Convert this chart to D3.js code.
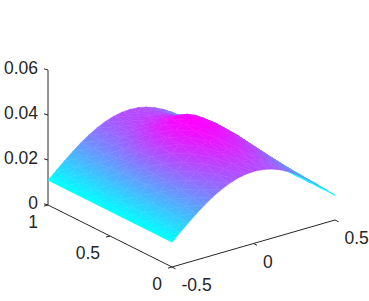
<!DOCTYPE html>
<html>
<head>
<meta charset="utf-8">
<script src="https://cdn.jsdelivr.net/npm/d3@7"></script>
<style>
	html, body { margin: 0; padding: 0; background: #fff; }
	svg { display: block; }
	text { font-family: "Liberation Sans", Arial, sans-serif; font-size: 17.5px; fill: #262626; }
</style>
</head>
<body>
<script>
const xTicks = [-0.5, 0, 0.5];
const yTicks = [0, 0.5, 1];
const zTicks = [0, 0.02, 0.04, 0.06];

const xValues = [-0.5, -0.45, -0.4, -0.35, -0.3, -0.25, -0.2, -0.15, -0.1, -0.05, 0, 0.05, 0.1, 0.15, 0.2, 0.25, 0.3, 0.35, 0.4, 0.45, 0.5];
const yValues = [0, 0.1, 0.2, 0.3, 0.4, 0.5, 0.6, 0.7, 0.8, 0.9, 1];

// one row per y value
const zRows = [
	[.011, .01428, .01749, .02053, .02334, .02585, .02799, .02971, .03097, .03174, .032, .03174, .03097, .02971, .02799, .02585, .02334, .02053, .01749, .01428, .011],
	[.011, .01438, .01769, .02089, .0239, .02665, .02907, .03107, .03255, .03348, .0338, .03348, .03255, .03107, .02907, .02665, .0239, .02089, .01769, .01438, .011],
	[.011, .01453, .01799, .02143, .02474, .02785, .03069, .03311, .03492, .03609, .0365, .03609, .03492, .03311, .03069, .02785, .02474, .02143, .01799, .01453, .011],
	[.011, .01466, .01824, .02188, .02544, .02885, .03204, .03481, .0369, .03827, .03875, .03827, .0369, .03481, .03204, .02885, .02544, .02188, .01824, .01466, .011],
	[.011, .01476, .01844, .02224, .026, .02965, .03312, .03617, .03848, .04001, .04055, .04001, .03848, .03617, .03312, .02965, .026, .02224, .01844, .01476, .011],
	[.011, .01478, .01849, .02233, .02614, .02985, .03339, .03651, .03887, .04044, .041, .04044, .03887, .03651, .03339, .02985, .02614, .02233, .01849, .01478, .011],
	[.011, .01475, .01842, .0222, .02594, .02957, .03301, .03603, .03832, .03983, .04037, .03983, .03832, .03603, .03301, .02957, .02594, .0222, .01842, .01475, .011],
	[.011, .01456, .01804, .02152, .02488, .02805, .03096, .03345, .03532, .03653, .03695, .03653, .03532, .03345, .03096, .02805, .02488, .02152, .01804, .01456, .011],
	[.011, .01441, .01774, .02098, .02404, .02685, .02934, .03141, .03295, .03392, .03425, .03392, .03295, .03141, .02934, .02685, .02404, .02098, .01774, .01441, .011],
	[.011, .01432, .01757, .02067, .02356, .02617, .02842, .03025, .0316, .03244, .03272, .03244, .0316, .03025, .02842, .02617, .02356, .02067, .01757, .01432, .011],
	[.011, .01428, .01749, .02053, .02334, .02585, .02799, .02971, .03097, .03174, .032, .03174, .03097, .02971, .02799, .02585, .02334, .02053, .01749, .01428, .011]
];

const width = 369;
const height = 301;

const svg = d3.select('body').append('svg').attr('width', width).attr('height', height);
const defs = svg.append('defs');

// oblique projection, each data axis gets a screen x and a screen y scale
const xToH = d3.scaleLinear().domain([-0.5, 0.5]).range([172, 335]);
const xToV = d3.scaleLinear().domain([-0.5, 0.5]).range([267, 220]);
const yToH = d3.scaleLinear().domain([0, 1]).range([0, -124]);
const yToV = d3.scaleLinear().domain([0, 1]).range([0, -62]);
const zToV = d3.scaleLinear().domain([0, 0.06]).range([0, -135]);

const project = (x, y, z) => [xToH(x) + yToH(y), xToV(x) + yToV(y) + zToV(z)];

const colorPos = d3.scaleLinear().domain([d3.min(zRows.flat()), d3.max(zRows.flat())]).range([0, 1]);
const cool = d3.scaleLinear().domain([0, 1]).range(['#00ffff', '#ff00ff']);

let gradId = 0;

// a triangle with linear colour is exactly one svg linear gradient
function triangleFill(pts) {
	const [p0, p1, p2] = pts;
	const ux = p1.s[0] - p0.s[0], uy = p1.s[1] - p0.s[1];
	const vx = p2.s[0] - p0.s[0], vy = p2.s[1] - p0.s[1];
	const det = ux * vy - uy * vx;
	const dt1 = p1.t - p0.t, dt2 = p2.t - p0.t;
	if (Math.abs(det) < 1e-6) return cool(p0.t);
	const a = (dt1 * vy - dt2 * uy) / det;
	const b = (dt2 * ux - dt1 * vx) / det;
	const len2 = a * a + b * b;
	if (len2 < 1e-9) return cool(p0.t);
	const dx = a / len2, dy = b / len2;
	const id = `surfGrad-${gradId++}`;
	const grad = defs.append('linearGradient')
		.attr('id', id)
		.attr('gradientUnits', 'userSpaceOnUse')
		.attr('x1', p0.s[0] - p0.t * dx)
		.attr('y1', p0.s[1] - p0.t * dy)
		.attr('x2', p0.s[0] + (1 - p0.t) * dx)
		.attr('y2', p0.s[1] + (1 - p0.t) * dy);
	grad.append('stop').attr('offset', 0).attr('stop-color', cool(0));
	grad.append('stop').attr('offset', 1).attr('stop-color', cool(1));
	return `url(#${id})`;
}

// axes first, the surface sits on top of them
const axisColor = '#262626';
const axes = svg.append('g').attr('class', 'axes')
	.attr('fill', 'none').attr('stroke', axisColor).attr('stroke-width', 1);

const lineGen = d3.line();
axes.append('path').attr('d', lineGen([project(-0.5, 0, 0), project(0.5, 0, 0)]));
axes.append('path').attr('d', lineGen([project(-0.5, 0, 0), project(-0.5, 1, 0)]));
axes.append('path').attr('d', lineGen([project(-0.5, 1, 0), project(-0.5, 1, 0.06)]));

xTicks.forEach(t => {
	const p = project(t, 0, 0);
	axes.append('path').attr('d', lineGen([p, [p[0] + 3.5, p[1] + 1.8]]));
});
yTicks.forEach(t => {
	const p = project(-0.5, t, 0);
	axes.append('path').attr('d', lineGen([p, [p[0] - 4, p[1] + 1.1]]));
});
zTicks.forEach(t => {
	const p = project(-0.5, 1, t);
	axes.append('path').attr('d', lineGen([p, [p[0] - 4, p[1] - 1.2]]));
});

// surface, painted from the far corner (x = 0.5, y = 1) towards the near one
const surface = svg.append('g').attr('class', 'surface');
const vertex = (i, j) => ({
	s: project(xValues[i], yValues[j], zRows[j][i]),
	t: colorPos(zRows[j][i])
});

for (let j = yValues.length - 2; j >= 0; j--) {
	for (let i = xValues.length - 2; i >= 0; i--) {
		const a = vertex(i, j), b = vertex(i + 1, j), c = vertex(i + 1, j + 1), d = vertex(i, j + 1);
		[[c, d, b], [d, b, a]].forEach(tri => {
			const fill = triangleFill(tri);
			surface.append('path')
				.attr('d', lineGen(tri.map(v => v.s)) + 'Z')
				.attr('fill', fill)
				.attr('stroke', fill)
				.attr('stroke-width', 0.5)
				.attr('stroke-linejoin', 'round');
		});
	}
}

// tick labels
const labels = svg.append('g').attr('class', 'labels');
xTicks.forEach(t => {
	const p = project(t, 0, 0);
	labels.append('text').attr('x', p[0] + 9.5).attr('y', p[1] + 24).text(t);
});
yTicks.forEach(t => {
	const p = project(-0.5, t, 0);
	labels.append('text').attr('x', p[0] - 10).attr('y', p[1] + 23).attr('text-anchor', 'end').text(t);
});
zTicks.forEach(t => {
	const p = project(-0.5, 1, t);
	labels.append('text').attr('x', p[0] - 10).attr('y', p[1] + 4).attr('text-anchor', 'end').text(t);
});
</script>
</body>
</html>
